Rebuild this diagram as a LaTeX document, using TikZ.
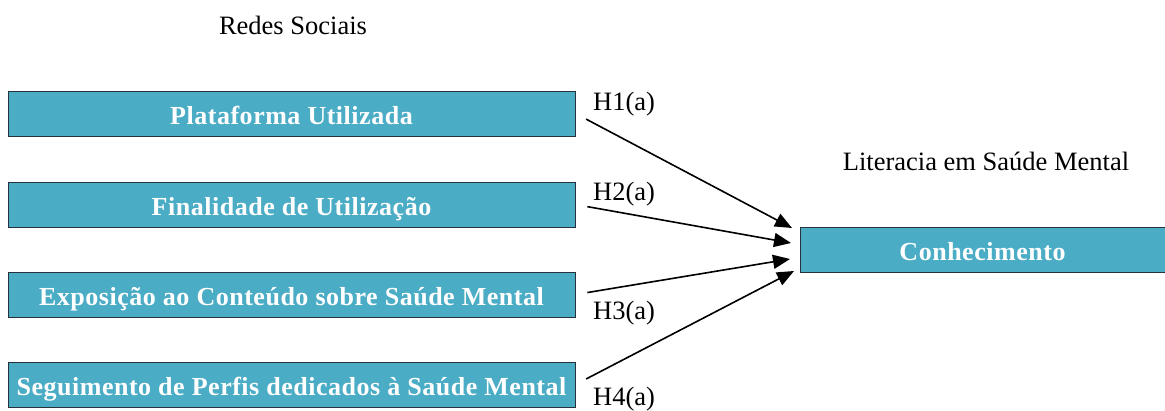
\documentclass[tikz,border=0pt]{standalone}
\usepackage{fontspec}
\setmainfont{Liberation Serif}
\usetikzlibrary{arrows.meta}
\definecolor{boxblue}{RGB}{75,172,198}
\definecolor{boxedge}{RGB}{40,50,60}

\begin{document}
\begin{tikzpicture}[x=1pt,y=-1pt,
  box/.style={draw=boxedge,line width=1pt,fill=boxblue,inner sep=0pt,
    minimum height=45pt,text height=21pt,text depth=0pt,text=white,
    font=\fontsize{26}{30}\selectfont\bfseries\addfontfeatures{LetterSpace=2}},
  hyp/.style={anchor=west,inner sep=0pt,font=\fontsize{26.5}{30}\selectfont},
  head/.style={inner sep=0pt,font=\fontsize{26.5}{30}\selectfont},
  link/.style={line width=1.6pt,-{Triangle[length=17pt,width=14pt]}}]
  \useasboundingbox (0,0) rectangle (1165,410);
  \node[head] (redes) at (293,25) {Redes Sociais};
  \node[head] (lit) at (986,161) {Literacia em Saúde Mental};
  % variaveis independentes
  \foreach \y/\nm/\txt in {113.5/plat/Plataforma Utilizada,
      204.5/final/Finalidade de Utilização,
      294.5/expo/Exposição ao Conteúdo sobre Saúde Mental,
      384.5/segu/Seguimento de Perfis dedicados à Saúde Mental}{
    \node[box,minimum width=567pt] (\nm) at (291.5,\y) {\txt};
  }
  \node[box,minimum width=365pt] (conh) at (982.5,249.5) {Conhecimento};
  % hipoteses
  \foreach \src/\tip/\tx/\ty in {plat/t1/792/228,final/t2/791/243,
      expo/t3/790/259,segu/t4/794/271}{
    \coordinate (\tip) at (\tx,\ty);
    \draw[link,shorten <=12pt] (\src.east) -- (\tip);
  }
  \node[hyp] (h1) at (593,104) {H1(a)};
  \node[hyp] (h2) at (593,194) {H2(a)};
  \node[hyp] (h3) at (593,313) {H3(a)};
  \node[hyp] (h4) at (593,399) {H4(a)};
\end{tikzpicture}
\end{document}
